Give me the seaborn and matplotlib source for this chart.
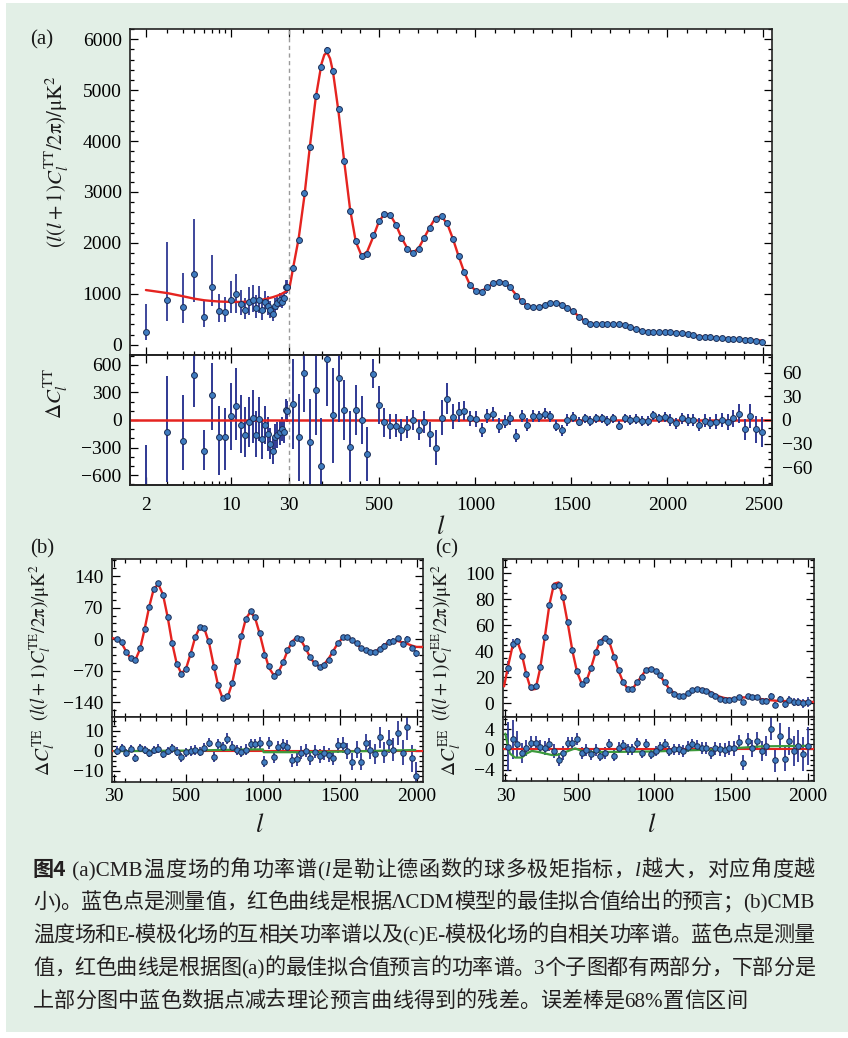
import numpy as np
import matplotlib
matplotlib.use("Agg")
import matplotlib.pyplot as plt
import seaborn as sns
from matplotlib.ticker import FixedLocator, FixedFormatter, MultipleLocator, NullFormatter
from matplotlib.offsetbox import TextArea, HPacker, AnchoredOffsetbox
from matplotlib.patches import Rectangle

# ---------------- data: (a) TT ----------------
tt_low_ell = [2, 3, 4, 5, 6, 7, 8, 9, 10, 11, 12, 13, 14, 15, 16, 17, 18, 19, 20,
              21, 22, 23, 24, 25, 26, 27, 28, 29]
tt_low_dl = [248, 888, 739, 1392, 555, 1131, 666, 653, 882, 994, 797, 686, 849, 882,
             719, 882, 686, 849, 764, 686, 608, 764, 817, 882, 849, 915, 1131, 1143]
tt_low_lo = [98, 470, 437, 849, 359, 764, 457, 457, 633, 621, 588, 504, 588, 653, 523,
             621, 490, 650, 590, 520, 460, 620, 680, 750, 730, 800, 1000, 1020]
tt_low_hi = [804, 2025, 1417, 2464, 882, 1764, 994, 947, 1254, 1385, 1078, 915, 1131,
             1176, 980, 1156, 900, 1060, 950, 860, 770, 920, 970, 1020, 980, 1040, 1270, 1280]
tt_low_res = [-830, -131, -229, 487, -338, 269, -189, -189, 44, 156, -51, -167, -22, 18,
              -160, 7, -211, -58, -156, -265, -342, -189, -164, -135, -102, -131, 109, 95]
tt_low_res_lo = [-1500, -673, -545, 145, -545, -109, -600, -545, -327, -218, -364, -400,
                 -291, -255, -400, -230, -420, -260, -340, -430, -480, -340, -310, -270,
                 -230, -250, -10, -20]
tt_low_res_hi = [-273, 483, 273, 1100, -109, 618, 156, 127, 400, 567, 273, 145, 254, 327,
                 100, 250, 0, 150, 30, -90, -190, -40, -20, 0, 30, -10, 230, 210]

tt_hi_ell = [49, 79, 109, 138, 168, 198, 228, 258, 287, 317,
             347, 377, 407, 436, 466, 496, 526, 556, 585, 615,
             645, 675, 705, 734, 764, 794, 824, 854, 883, 913,
             943, 973, 1003, 1032, 1062, 1092, 1122, 1152, 1181, 1211,
             1241, 1271, 1301, 1330, 1360, 1390, 1420, 1450, 1479, 1509,
             1539, 1569, 1599, 1628, 1658, 1688, 1718, 1748, 1777, 1807,
             1837, 1867, 1897, 1926, 1956, 1986, 2016, 2046, 2075, 2105,
             2135, 2165, 2195, 2224, 2254, 2284, 2314, 2344, 2373, 2403,
             2433, 2463, 2493]
tt_hi_dl = [1503, 2058, 2973, 3875, 4880, 5455, 5782, 5370, 4626, 3600,
            2632, 2038, 1750, 1784, 2162, 2424, 2574, 2542, 2358, 2091,
            1888, 1809, 1888, 2104, 2300, 2470, 2522, 2398, 2084, 1744,
            1424, 1169, 1058, 1045, 1130, 1215, 1241, 1215, 1130, 967,
            862, 764, 738, 745, 784, 817, 817, 784, 732, 660,
            555, 470, 418, 405, 405, 405, 412, 399, 386, 353,
            314, 274, 255, 248, 248, 248, 242, 235, 229, 209,
            183, 163, 150, 144, 131, 124, 118, 118, 118, 92,
            98, 78, 65]
tt_hi_res = [20, -22, 60, -28, 38, -58, 78, 6, 53, 13,
             -34, 13, 0, -43, 59, 19, -3, -8, -7, -13,
             -9, 0, -13, -3, -18, -35, 3, 27, 4, 10,
             12, 2, 1, -13, 5, 8, -7, -2, 2, -20,
             5, -6, 5, 5, 8, 5, -7, -13, 0, 4,
             -2, 2, -1, 2, 2, -1, 2, -7, 2, 0,
             1, -1, -1, 6, 2, 4, 0, -4, 2, 0,
             0, -6, -1, -4, -2, 0, -3, 2, 8, -12,
             5, -12, -15]
tt_hi_err = [57, 55, 50, 55, 57, 60, 60, 60, 55, 38,
             45, 32, 30, 34, 19, 24, 18, 16, 15, 14,
             14, 13, 13, 14, 16, 22, 22, 20, 16, 13,
             12, 10, 10, 9, 9, 9, 9, 8, 8, 8,
             8, 8, 8, 7, 7, 7, 7, 7, 7, 6,
             6, 6, 6, 6, 6, 6, 6, 6, 6, 6,
             6, 6, 6, 6, 6, 6, 7, 7, 7, 7,
             7, 8, 8, 8, 9, 9, 10, 11, 12, 13,
             15, 17, 19]

tt_th_ell = [2, 3, 4, 5, 6, 7, 8, 10, 12, 14, 16, 18, 20, 22, 24, 26, 28, 30, 40,
             49, 79, 109, 138, 168, 198, 213, 228, 243, 258,
             287, 317, 347, 377, 407, 436, 466, 496, 526, 556,
             585, 615, 645, 675, 705, 734, 764, 794, 824, 854,
             883, 913, 943, 973, 1003, 1032, 1062, 1092, 1122, 1152,
             1181, 1211, 1241, 1271, 1301, 1330, 1360, 1390, 1420, 1450,
             1479, 1509, 1539, 1569, 1599, 1628, 1658, 1688, 1718, 1748,
             1777, 1807, 1837, 1867, 1897, 1926, 1956, 1986, 2016, 2046,
             2075, 2105, 2135, 2165, 2195, 2224, 2254, 2284, 2314, 2344,
             2373, 2403, 2433, 2463, 2493]
tt_th = [1075, 1015, 955, 905, 875, 860, 850, 842, 842, 848, 865, 885, 910, 935, 965,
         1000, 1045, 1090, 1290,
         1483, 2080, 2913, 3902, 4842, 5513, 5694, 5735, 5620, 5364,
         4573, 3587, 2666, 2024, 1750, 1828, 2103, 2405, 2576, 2553,
         2365, 2104, 1897, 1809, 1901, 2107, 2318, 2505, 2519, 2371,
         2080, 1734, 1412, 1167, 1057, 1058, 1125, 1207, 1248, 1217,
         1128, 987, 857, 770, 735, 742, 776, 812, 822, 797,
         732, 656, 557, 468, 419, 403, 402, 406, 408, 400,
         384, 353, 313, 277, 256, 246, 245, 244, 242, 237,
         227, 209, 186, 167, 152, 143, 134, 126, 120, 115,
         110, 103, 96, 89, 82]

# ---------------- data: (b) TE, (c) EE ----------------
pol_ell = [47, 77, 107, 137, 167, 197, 227, 257, 287, 317,
           347, 377, 407, 437, 467, 497, 527, 557, 587, 617,
           647, 677, 707, 737, 767, 797, 827, 857, 887, 917,
           947, 977, 1007, 1037, 1067, 1097, 1127, 1157, 1187, 1217,
           1247, 1277, 1307, 1337, 1367, 1397, 1427, 1457, 1487, 1517,
           1547, 1577, 1607, 1637, 1667, 1697, 1727, 1757, 1787, 1817,
           1847, 1877, 1907, 1937, 1967, 1997]
te_dl = [1, -7, -28, -41, -47, -20, 23, 72, 112, 125,
         98, 50, -8, -55, -78, -65, -32, 6, 28, 25,
         -3, -61, -101, -131, -125, -97, -48, 7, 46, 63,
         49, 15, -35, -59, -81, -72, -51, -24, -9, 2,
         1, -20, -40, -53, -62, -58, -45, -29, -8, 5,
         6, -2, -8, -20, -24, -29, -29, -22, -14, -6,
         -3, 2, -10, 1, -19, -31]
te_res = [0, 1.2, -1.2, 1, -3.8, 1.3, 0.5, -1.2, 0.2, 1,
          -1.8, -0.3, 1.2, -0.5, -3.3, -0.8, -0.2, 0.3, -0.5, 1.5,
          4, -3, 3.5, 2, 6, 2, 0.2, -0.5, 0.5, 3.2,
          3.2, 3.8, -5.5, 3.8, -3, 2, 2.8, 2, -4.8, -4.3,
          -1, 0, -3.8, -0.5, -2.7, -1.3, -2.2, -3.5, 2.7, 2.7,
          0, -5.5, 0.5, -5.5, 3.7, 0.5, -1.7, 6.7, -1, 4.5,
          0.5, 8.7, -1, 11.7, -3.8, -12.7]
te_err = [2.2, 2.0, 1.9, 1.9, 2.0, 2.0, 2.0, 2.0, 2.0, 2.1,
          2.1, 2.1, 2.2, 2.2, 2.2, 2.3, 2.3, 2.3, 2.4, 2.4,
          2.4, 2.5, 2.5, 2.5, 2.6, 2.6, 2.6, 2.7, 2.7, 2.7,
          2.8, 2.8, 2.9, 2.9, 3.0, 3.0, 3.1, 3.1, 3.2, 3.2,
          3.3, 3.3, 3.4, 3.4, 3.5, 3.5, 3.6, 3.7, 3.8, 3.9,
          4.0, 4.1, 4.2, 4.4, 4.6, 4.8, 5.0, 5.2, 5.4, 5.6,
          5.8, 6.0, 6.2, 6.5, 6.8, 7.2]
te_th_ell = [13] + pol_ell + [2040]
te_th = [3,
         0, -8, -27, -43, -46, -22, 22, 72, 112, 122,
         99, 50, -9, -55, -76, -65, -32, 5, 27, 23,
         -8, -58, -104, -133, -129, -98, -48, 7, 46, 61,
         47, 12, -29, -63, -79, -74, -53, -26, -5, 4,
         -3, -21, -41, -55, -60, -55, -42, -25, -8, 3,
         5, -1, -10, -19, -25, -28, -27, -21, -13, -6,
         -3, -4, -7, -10, -14, -17,
         -17]
te_green_ell = [30, 500, 935, 998, 1002, 1260, 1586, 1990]
te_green = [-0.3, 0.0, 0.6, 0.6, -0.8, -0.8, -0.4, 0.3]

ee_dl = [27.4, 45.6, 48, 36.6, 22.3, 12.8, 13.5, 27.9, 51.2, 75.4,
         90.2, 91.2, 81.5, 62.8, 41, 24.8, 14.8, 17.9, 27.2, 39.7,
         47.4, 50.5, 47.9, 35.6, 25.6, 16.6, 11, 11, 16.6, 20.2,
         25.8, 26.2, 25.1, 21.8, 16.6, 10.2, 6.9, 5.6, 5.8, 8.2,
         10.2, 11.3, 10.5, 9.5, 6.9, 5.4, 3.6, 2.3, 2.8, 3.3,
         5.1, 1.0, 5.8, 4.6, 4.9, 1.8, 2.1, 5.4, -1.3, 3.1,
         -0.8, 2.6, 0.8, 1.0, 0, 1.0]
ee_res = [0.5, 2, 1, -0.7, 0.3, 1.2, 1.3, 0.5, 0.3, 1,
          -0.3, -2, -0.7, 1.2, 1.2, 2, -0.7, -0.1, -0.9, -0.1,
          -1.2, -0.7, 1, -1.2, 0.3, 0.8, 0, 0, 1.2, -0.7,
          1, -0.9, -0.3, 0.5, 1, -0.3, 0, 0, -0.3, 0.5,
          1, 0.7, 0.3, 0.3, -0.7, 0.2, 0, -0.1, 0.3, 0.2,
          1.4, -2.6, 1.6, 0.2, 1.6, -0.3, 0.7, 4.1, -2.1, 2.7,
          -1.8, 1.6, -0.3, 0.7, -0.9, 0.7]
ee_err = [4.8, 3.8, 2.6, 1.9, 1.6, 1.4, 1.3, 1.3, 1.3, 1.3,
          1.3, 1.3, 1.3, 1.2, 1.2, 1.2, 1.2, 1.1, 1.1, 1.1,
          1.1, 1.1, 1.1, 1.1, 1.1, 1.0, 1.0, 1.0, 1.0, 1.0,
          1.0, 1.0, 1.0, 1.0, 1.0, 1.0, 1.0, 1.0, 1.1, 1.1,
          1.1, 1.1, 1.2, 1.2, 1.2, 1.3, 1.3, 1.3, 1.4, 1.4,
          1.5, 1.5, 1.6, 1.7, 1.8, 1.9, 2.0, 2.2, 2.3, 2.4,
          2.5, 2.7, 2.9, 3.1, 3.4, 3.7]
ee_th_ell = [22] + pol_ell + [2040]
ee_th = [13,
         28, 44, 48, 38, 22, 10.5, 11, 27, 51, 76,
         92, 93, 80, 61, 40, 24, 15, 17, 27, 39,
         48, 51, 47, 36, 25, 16, 11, 11, 16, 21,
         26, 27, 25, 21, 16, 11, 8, 6, 6, 7,
         9, 11, 11, 10, 8.5, 6.5, 5, 4, 3.5, 3.5,
         4, 4.5, 4.5, 4.3, 3.8, 3.2, 2.7, 2.3, 2.0, 1.8,
         1.7, 1.6, 1.5, 1.4, 1.3, 1.2,
         1.0]
ee_green_ell = [30, 45, 60, 93, 137, 169, 202, 245, 288, 332, 364, 397, 440, 484, 527,
                592, 700, 1000, 1200, 1400, 1600, 1700, 2000]
ee_green = [3.1, 1.0, -0.8, -1.6, -1.6, -0.8, -0.3, -0.5, -0.8, -1.1, -1.1, -0.8, -0.3,
            0.2, -0.3, -0.5, -0.5, -0.4, -0.2, 0.0, 0.4, 0.6, 0.7]

tt_major = [2, 10, 30, 500, 1000, 1500, 2000, 2500]
tt_major_labels = ["2", "10", "30", "500", "1000", "1500", "2000", "2500"]
pol_major = [30, 500, 1000, 1500, 2000]
pol_major_labels = ["30", "500", "1000", "1500", "2000"]

caption_lines = [
    [("图4", "b"), (" (a)CMB温度场的角功率谱(", ""), ("l", "i"), ("是勒让德函数的球多极矩指标，", ""),
     ("l", "i"), ("越大，对应角度越", "")],
    [("小)。蓝色点是测量值，红色曲线是根据ΛCDM模型的最佳拟合值给出的预言；(b)CMB", "")],
    [("温度场和E-模极化场的互相关功率谱以及(c)E-模极化场的自相关功率谱。蓝色点是测量", "")],
    [("值，红色曲线是根据图(a)的最佳拟合值预言的功率谱。3个子图都有两部分，下部分是", "")],
    [("上部分图中蓝色数据点减去理论预言曲线得到的残差。误差棒是68%置信区间", "")],
]
caption_justify = [True, True, True, True, False]

# ---------------- style ----------------
sns.set_theme(style="ticks")
plt.rcParams["font.family"] = ["Liberation Serif", "Noto Sans CJK SC", "DejaVu Sans"]
plt.rcParams["mathtext.fontset"] = "stix"
plt.rcParams["axes.unicode_minus"] = True

RED = "#e52420"
FILL = "#3f7cc0"
EDGE = "#1b2c55"
ERRC = "#2f3893"
GREEN = "#3c9a3c"
BG = "#e2efe6"
W, H = 848.0, 1038.0


def rect(l, t, r, b):
    return [l / W, 1 - b / H, (r - l) / W, (b - t) / H]


def style_ax(ax, right=True, left=True):
    ax.set_facecolor("white")
    ax.tick_params(which="both", direction="in", top=True, right=right, left=left,
                   colors="black", labelsize=14, width=0.9, pad=6)
    ax.tick_params(which="major", length=6)
    ax.tick_params(which="minor", length=3)
    for s in ax.spines.values():
        s.set_linewidth(1.2)
        s.set_color("#222222")


K = 474.3 / 143.3


def fwd(x):
    x = np.asarray(x, dtype=float)
    lg = (np.log10(np.clip(x, 1e-6, None)) - np.log10(2.0)) / np.log10(15.0)
    lin = 1.0 + (x - 30.0) / 2470.0 * K
    return np.where(x <= 30.0, lg, lin)


def inv(y):
    y = np.asarray(y, dtype=float)
    return np.where(y <= 1.0, 2.0 * 15.0 ** np.clip(y, -50, 1), 30.0 + (y - 1.0) / K * 2470.0)


tt_minor = [3, 4, 5, 6, 7, 8, 9, 20] + [v for v in range(100, 2500, 100) if v % 500]
pol_minor = [v for v in range(100, 2001, 100) if v % 500]


def pts(ax, x, y, s=18):
    sns.scatterplot(x=x, y=y, ax=ax, s=s, color=FILL, edgecolor=EDGE, linewidth=0.7,
                    zorder=4, legend=False)


def curve(ax, x, y, color=RED, lw=1.7, z=3):
    sns.lineplot(x=x, y=y, ax=ax, color=color, linewidth=lw, estimator=None, sort=False,
                 zorder=z, legend=False)


def tt_xticks(ax, labels):
    ax.xaxis.set_major_locator(FixedLocator(tt_major))
    ax.xaxis.set_minor_locator(FixedLocator(tt_minor))
    ax.xaxis.set_major_formatter(FixedFormatter(tt_major_labels) if labels else NullFormatter())
    ax.xaxis.set_minor_formatter(NullFormatter())


fig = plt.figure(figsize=(W / 100, H / 100), dpi=100, facecolor="white")
fig.add_artist(Rectangle((6 / W, 1 - 1032 / H), (W - 6) / W, (1032 - 3) / H,
                         transform=fig.transFigure, facecolor=BG, edgecolor="none", zorder=-10))

# ---------------- (a) top ----------------
axA = fig.add_axes(rect(130, 29, 772, 355))
axA.set_xscale("function", functions=(fwd, inv))
style_ax(axA)
curve(axA, tt_th_ell, tt_th)
dl = np.array(tt_low_dl, float)
axA.errorbar(tt_low_ell, dl, yerr=[dl - np.array(tt_low_lo), np.array(tt_low_hi) - dl],
             fmt="none", ecolor=ERRC, elinewidth=1.3, capsize=0, zorder=2)
axA.errorbar(tt_hi_ell, tt_hi_dl, yerr=tt_hi_err, fmt="none", ecolor=ERRC,
             elinewidth=1.2, capsize=0, zorder=2)
pts(axA, tt_low_ell, tt_low_dl)
pts(axA, tt_hi_ell, tt_hi_dl)
axA.axvline(30, color="#9a9a9a", lw=1.0, ls=(0, (3, 2.5)), zorder=1)
axA.set_xlim(1.48, 2545)
axA.set_ylim(-200, 6200)
tt_xticks(axA, False)
axA.yaxis.set_major_locator(MultipleLocator(1000))
axA.yaxis.set_minor_locator(MultipleLocator(200))
axA.set_xlabel("")
axA.set_ylabel("")

# ---------------- (a) residual ----------------
axA2 = fig.add_axes(rect(130, 355, 772, 485))
axA2.set_xscale("function", functions=(fwd, inv))
style_ax(axA2, right=False)
axR = axA2.twinx()

axA2.axhline(0, color=RED, lw=1.8, zorder=3)
rl = np.array(tt_low_res, float)
axA2.errorbar(tt_low_ell, rl, yerr=[rl - np.array(tt_low_res_lo), np.array(tt_low_res_hi) - rl],
              fmt="none", ecolor=ERRC, elinewidth=1.4, capsize=0, zorder=2)
pts(axA2, tt_low_ell, tt_low_res)
axA2.axvline(30, color="#9a9a9a", lw=1.0, ls=(0, (3, 2.5)), zorder=1)
axA2.set_ylim(-709, 709)
axA2.yaxis.set_major_locator(FixedLocator([-600, -300, 0, 300, 600]))
axA2.yaxis.set_minor_locator(MultipleLocator(100))
axA2.set_xlabel("")
axA2.set_ylabel("")

axR.errorbar(tt_hi_ell, tt_hi_res, yerr=tt_hi_err, fmt="none", ecolor=ERRC,
             elinewidth=1.4, capsize=0, zorder=2)
pts(axR, tt_hi_ell, tt_hi_res)
axR.set_ylim(-82.5, 82.5)
axR.tick_params(which="both", direction="in", left=False, right=True, labelright=True,
                top=False, labelsize=14, width=0.9, pad=7, colors="black")
axR.tick_params(which="major", length=6)
axR.tick_params(which="minor", length=3)
axR.yaxis.set_major_locator(FixedLocator([-60, -30, 0, 30, 60]))
axR.yaxis.set_minor_locator(MultipleLocator(10))
axR.set_ylabel("")
axR.set_xlabel("")
for s in axR.spines.values():
    s.set_linewidth(1.2)
    s.set_color("#222222")

# x ticks set after the twin exists (the twin shares the x ticker)
axA2.set_xlim(1.48, 2545)
tt_xticks(axA2, True)
axA2.tick_params(axis="x", which="major", pad=9)


# ---------------- (b) and (c) ----------------
def pol_panel(box_top, box_res, dl, th_ell, th, res, err, g_ell, g, ylim, yt, ymin,
              rlim, rt, rmin):
    ax = fig.add_axes(box_top)
    style_ax(ax)
    curve(ax, th_ell, th)
    ax.errorbar(pol_ell, dl, yerr=err, fmt="none", ecolor=ERRC, elinewidth=1.2,
                capsize=0, zorder=2)
    pts(ax, pol_ell, dl, s=16)
    ax.set_xlim(13, 2040)
    ax.set_ylim(*ylim)
    ax.xaxis.set_major_locator(FixedLocator(pol_major))
    ax.xaxis.set_minor_locator(FixedLocator(pol_minor))
    ax.xaxis.set_major_formatter(NullFormatter())
    ax.yaxis.set_major_locator(FixedLocator(yt))
    ax.yaxis.set_minor_locator(MultipleLocator(ymin))
    ax.set_xlabel("")
    ax.set_ylabel("")

    ax2 = fig.add_axes(box_res)
    style_ax(ax2)
    ax2.axhline(0, color=RED, lw=1.5, zorder=3)
    curve(ax2, g_ell, g, color=GREEN, lw=1.6, z=3)
    ax2.errorbar(pol_ell, res, yerr=err, fmt="none", ecolor=ERRC, elinewidth=1.3,
                 capsize=0, zorder=2)
    pts(ax2, pol_ell, res, s=16)
    ax2.set_xlim(13, 2040)
    ax2.set_ylim(*rlim)
    ax2.xaxis.set_major_locator(FixedLocator(pol_major))
    ax2.xaxis.set_major_formatter(FixedFormatter(pol_major_labels))
    ax2.xaxis.set_minor_locator(FixedLocator(pol_minor))
    ax2.tick_params(axis="x", which="major", pad=5)
    ax2.yaxis.set_major_locator(FixedLocator(rt))
    ax2.yaxis.set_minor_locator(MultipleLocator(rmin))
    ax2.set_xlabel("")
    ax2.set_ylabel("")
    return ax, ax2


pol_panel(rect(111.7, 559, 423, 717.3), rect(111.7, 717.3, 423, 781.5),
          te_dl, te_th_ell, te_th, te_res, te_err, te_green_ell, te_green,
          (-173, 178), [-140, -70, 0, 70, 140], 17.5,
          (-15.5, 16.7), [-10, 0, 10], 2.5)
pol_panel(rect(502.7, 559, 814.3, 717.3), rect(502.7, 717.3, 814.3, 781.0),
          ee_dl, ee_th_ell, ee_th, ee_res, ee_err, ee_green_ell, ee_green,
          (-10.8, 111), [0, 20, 40, 60, 80, 100], 5,
          (-6.2, 6.3), [-4, 0, 4], 1)


# ---------------- labels ----------------
def ftxt(x, y, s, size=15, rot=0, **kw):
    fig.text(x / W, 1 - y / H, s, fontsize=size, rotation=rot, ha="center", va="center",
             color="#1a1a1a", **kw)


ftxt(42, 40, "(a)", 15)
ftxt(57, 162, r"$(l(l+1)C_l^{\mathrm{TT}}/2\mathrm{π})/\mathrm{μK}^2$", 15, 90)
ftxt(56, 394, r"$\Delta C_l^{\mathrm{TT}}$", 15, 90)
ftxt(441, 527, r"$l$", 19)

ftxt(42, 549, "(b)", 15)
ftxt(40, 643, r"$(l(l+1)C_l^{\mathrm{TE}}/2\mathrm{π})/\mathrm{μK}^2$", 13.6, 90)
ftxt(44, 752, r"$\Delta C_l^{\mathrm{TE}}$", 14, 90)
ftxt(260, 825, r"$l$", 19)

ftxt(447, 549, "(c)", 15)
ftxt(442, 643, r"$(l(l+1)C_l^{\mathrm{EE}}/2\mathrm{π})/\mathrm{μK}^2$", 13.6, 90)
ftxt(450, 752, r"$\Delta C_l^{\mathrm{EE}}$", 14, 90)
ftxt(652, 825, r"$l$", 19)


# ---------------- caption ----------------
def split_runs(text, st):
    """Keep Latin runs together, give every CJK sign its own piece."""
    if st == "b":
        return [(text, st)]
    out, buf = [], ""
    for ch in text:
        if ord(ch) < 0x2000:
            buf += ch
        else:
            if buf:
                out.append((buf, st))
                buf = ""
            out.append((ch, st))
    if buf:
        out.append((buf, st))
    return out


CAP_FS = 15.2
CAP_LEFT, CAP_RIGHT = 33, 815
line_y = [870, 903, 936, 969, 1002]
for segs, yy, just in zip(caption_lines, line_y, caption_justify):
    kids = []
    for txt, st in segs:
        for piece, pst in split_runs(txt, st):
            props = dict(fontsize=CAP_FS, color="#231f20",
                         family=["Liberation Serif", "Noto Sans CJK SC"])
            if pst == "i":
                props.update(style="italic", family=["Liberation Serif"])
            if pst == "b":
                props.update(weight="bold", family=["Noto Sans CJK SC"])
            kids.append(TextArea(piece, textprops=props))
    if just:
        box = HPacker(children=kids, align="baseline", pad=0, sep=0, mode="expand",
                      width=CAP_RIGHT - CAP_LEFT)
    else:
        box = HPacker(children=kids, align="baseline", pad=0, sep=0)
    anc = AnchoredOffsetbox(loc="center left", child=box, pad=0, borderpad=0, frameon=False,
                            bbox_to_anchor=(CAP_LEFT / W, 1 - yy / H),
                            bbox_transform=fig.transFigure)
    fig.add_artist(anc)

fig.savefig("out.png", dpi=100, facecolor="white")
